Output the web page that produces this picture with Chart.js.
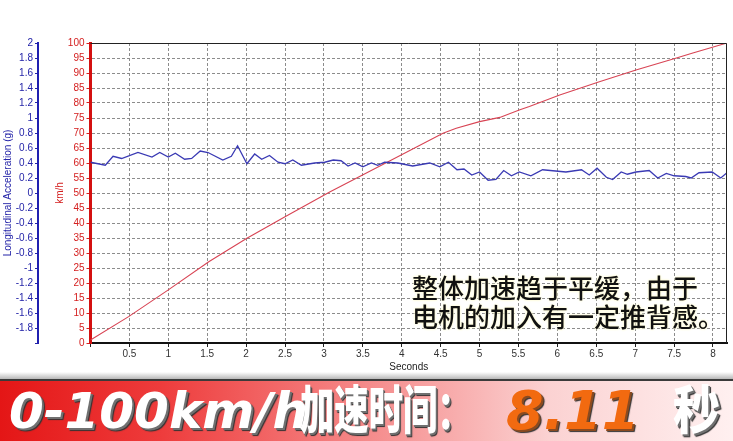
<!DOCTYPE html>
<html>
<head>
<meta charset="utf-8">
<script src="https://cdn.jsdelivr.net/npm/chart.js@4.4.1/dist/chart.umd.min.js"></script>
<style>
  body { margin: 0; background: #fff; }
  #wrap { position: relative; width: 733px; height: 441px; overflow: hidden; background: #fff; }
  #grafico { position: absolute; left: 0; top: 0; }
  .nota {
    position: absolute; left: 412px; white-space: nowrap;
    font: 500 26px "Noto Sans CJK SC", sans-serif; color: #111; line-height: 29px;
    text-shadow: 0 0 3px #fffbd0, 0 0 2px #fffbd0, 0 0 1px #fff;
  }
  .sombra { position: absolute; left: 0; top: 372px; width: 733px; height: 7px;
    background: linear-gradient(#fff, #b8b8b8); }
  .faixa {
    position: absolute; left: 0; top: 379px; width: 733px; height: 60px;
    border-top: 2px solid #3a3a3a;
    background: linear-gradient(90deg, #e41616 0%, #ee3c3c 22%, #f58a8a 50%, #fbd2d2 75%, #fff0f0 100%);
  }
  .faixa span { position: absolute; white-space: nowrap; line-height: 1; }
  .num { font: italic bold 50px "DejaVu Sans", sans-serif; color: #fff;
    text-shadow: 2px 2px 0 #707070, 3px 3px 1px #333; }
  .cjk { font: 900 52px "Noto Sans CJK SC", sans-serif; color: #fff; transform-origin: left top;
    text-shadow: 2px 2px 0 #707070, 3px 3px 1px #333; }
</style>
</head>
<body>
<div id="wrap">
  <canvas id="grafico" width="733" height="380"></canvas>
  <div class="nota" style="top:272px">整体加速趋于平缓，由于</div>
  <div class="nota" style="top:301px">电机的加入有一定推背感。</div>
  <div class="sombra"></div>
  <div class="faixa">
    <span class="num" style="left:9px; top:5px">0-100km/h</span>
    <span class="cjk" style="left:300px; top:0px; transform:scaleX(0.66)">加速时间：</span>
    <span class="num" style="left:506px; top:3px; font-size:54px; color:#f26a10; text-shadow:2px 2px 0 #8a4a20, 3px 3px 1px #333">8.11</span>
    <span class="cjk" style="left:673px; top:0px; transform:scaleX(0.9)">秒</span>
  </div>
</div>
<script>
// Aceleração longitudinal (g)
const tempoAcel = [0, 0.19, 0.29, 0.40, 0.61, 0.79, 0.89, 1.00, 1.09, 1.21, 1.30, 1.41, 1.51, 1.70, 1.81,
  1.89, 2.01, 2.11, 2.20, 2.30, 2.41, 2.50, 2.60, 2.71, 2.88, 3.01, 3.12, 3.22, 3.31, 3.40,
  3.50, 3.61, 3.69, 3.78, 3.95, 4.14, 4.36, 4.49, 4.60, 4.71, 4.80, 4.90, 5.00, 5.11, 5.21,
  5.31, 5.41, 5.51, 5.66, 5.81, 6.11, 6.31, 6.41, 6.51, 6.63, 6.71, 6.82, 6.90, 7.01, 7.18,
  7.29, 7.40, 7.50, 7.65, 7.72, 7.82, 7.99, 8.10, 8.18];
const aceleracao = [0.41, 0.37, 0.49, 0.46, 0.54, 0.48, 0.54, 0.48, 0.53, 0.45, 0.46, 0.56, 0.54, 0.44, 0.49,
  0.63, 0.39, 0.52, 0.45, 0.50, 0.41, 0.39, 0.44, 0.37, 0.40, 0.41, 0.44, 0.43, 0.36, 0.40,
  0.35, 0.40, 0.37, 0.41, 0.40, 0.36, 0.40, 0.35, 0.41, 0.31, 0.32, 0.24, 0.28, 0.17, 0.18,
  0.30, 0.23, 0.28, 0.23, 0.31, 0.28, 0.31, 0.24, 0.33, 0.21, 0.18, 0.28, 0.25, 0.28, 0.30,
  0.20, 0.26, 0.23, 0.22, 0.20, 0.27, 0.28, 0.20, 0.27];

// Velocidade (km/h)
const tempoVel = [0, 0.49, 1.0, 1.52, 2.01, 2.5, 3.08, 3.80, 4.53, 4.70, 5.0, 5.26, 5.51, 5.64, 6.03, 6.54, 7.01, 7.52, 7.73, 8.18];
const velocidade = [1, 8.8, 17.7, 27.1, 34.9, 42.1, 50.4, 60.1, 69.9, 71.6, 73.8, 75.2, 77.7, 78.8, 82.7, 87.1, 91.0, 94.9, 96.6, 100];

// Escalas
const eixoX = { min: 0, max: 8.18, passo: 0.5, titulo: "Seconds" };
const eixoG = { min: -2, max: 2, passo: 0.2, titulo: "Longitudinal Acceleration (g)" };
const eixoV = { min: 0, max: 100, passo: 5, titulo: "km/h" };

const fonteEixo = { family: "'Liberation Sans', Arial, sans-serif", size: 10 };
const tracejado = [3, 2];

// borda da área do gráfico
const moldura = {
  id: "moldura",
  afterDraw(chart) {
    const { ctx, chartArea: a } = chart;
    ctx.save();
    ctx.strokeStyle = "#222";
    ctx.lineWidth = 1;
    ctx.beginPath();
    ctx.moveTo(a.left, a.top + 0.5);
    ctx.lineTo(a.right - 0.5, a.top + 0.5);
    ctx.lineTo(a.right - 0.5, a.bottom);
    ctx.stroke();
    ctx.restore();
  }
};

new Chart(document.getElementById("grafico"), {
  type: "line",
  data: {
    datasets: [
      {
        label: "Aceleração",
        data: tempoAcel.map((t, i) => ({ x: t, y: aceleracao[i] })),
        yAxisID: "g",
        borderColor: "#3a3ab4",
        borderWidth: 1.3,
        pointRadius: 0,
        tension: 0
      },
      {
        label: "Velocidade",
        data: tempoVel.map((t, i) => ({ x: t, y: velocidade[i] })),
        yAxisID: "y",
        borderColor: "#d84454",
        borderWidth: 1.1,
        pointRadius: 0,
        tension: 0
      }
    ]
  },
  options: {
    responsive: false,
    animation: false,
    layout: { padding: { left: 0, top: 43, right: 6, bottom: 0 } },
    plugins: { legend: { display: false }, tooltip: { enabled: false } },
    scales: {
      x: {
        type: "linear",
        min: eixoX.min, max: eixoX.max,
        afterFit: s => { s.height = 37; },
        ticks: {
          stepSize: eixoX.passo, includeBounds: false, color: "#333", font: fonteEixo, padding: 1, maxRotation: 0,
          callback: v => v === 0 ? "" : String(v)
        },
        grid: { color: "#8c8c8c", tickColor: "#222", tickLength: 4 },
        border: { color: "#111", width: 2, dash: tracejado },
        title: { display: true, text: eixoX.titulo, color: "#222", font: fonteEixo, padding: { top: 0, bottom: 7 } }
      },
      y: {
        type: "linear", position: "left", weight: 1,
        min: eixoV.min, max: eixoV.max,
        afterFit: s => { s.width = 52.5; },
        ticks: { stepSize: eixoV.passo, color: "#d42020", font: fonteEixo, padding: 2 },
        grid: { color: "#8c8c8c", tickColor: "#d42020", tickLength: 4 },
        border: { color: "#d41010", width: 3, dash: tracejado },
        title: { display: true, text: eixoV.titulo, color: "#d42020", font: fonteEixo, padding: { top: 16, bottom: 0 } }
      },
      g: {
        type: "linear", position: "left", weight: 2,
        min: eixoG.min, max: eixoG.max,
        afterFit: s => { s.width = 38; },
        ticks: {
          stepSize: eixoG.passo, color: "#2424a8", font: fonteEixo, padding: 2,
          callback: v => Math.abs(v + 2) < 1e-6 ? "" : String(Number(v.toFixed(1)))
        },
        grid: { drawOnChartArea: false, tickColor: "#2424a8", tickLength: 3 },
        border: { color: "#2020b0", width: 2 },
        title: { display: true, text: eixoG.titulo, color: "#2424a8", font: fonteEixo, padding: { top: 2, bottom: 0 } }
      }
    }
  },
  plugins: [moldura]
});
</script>
</body>
</html>
